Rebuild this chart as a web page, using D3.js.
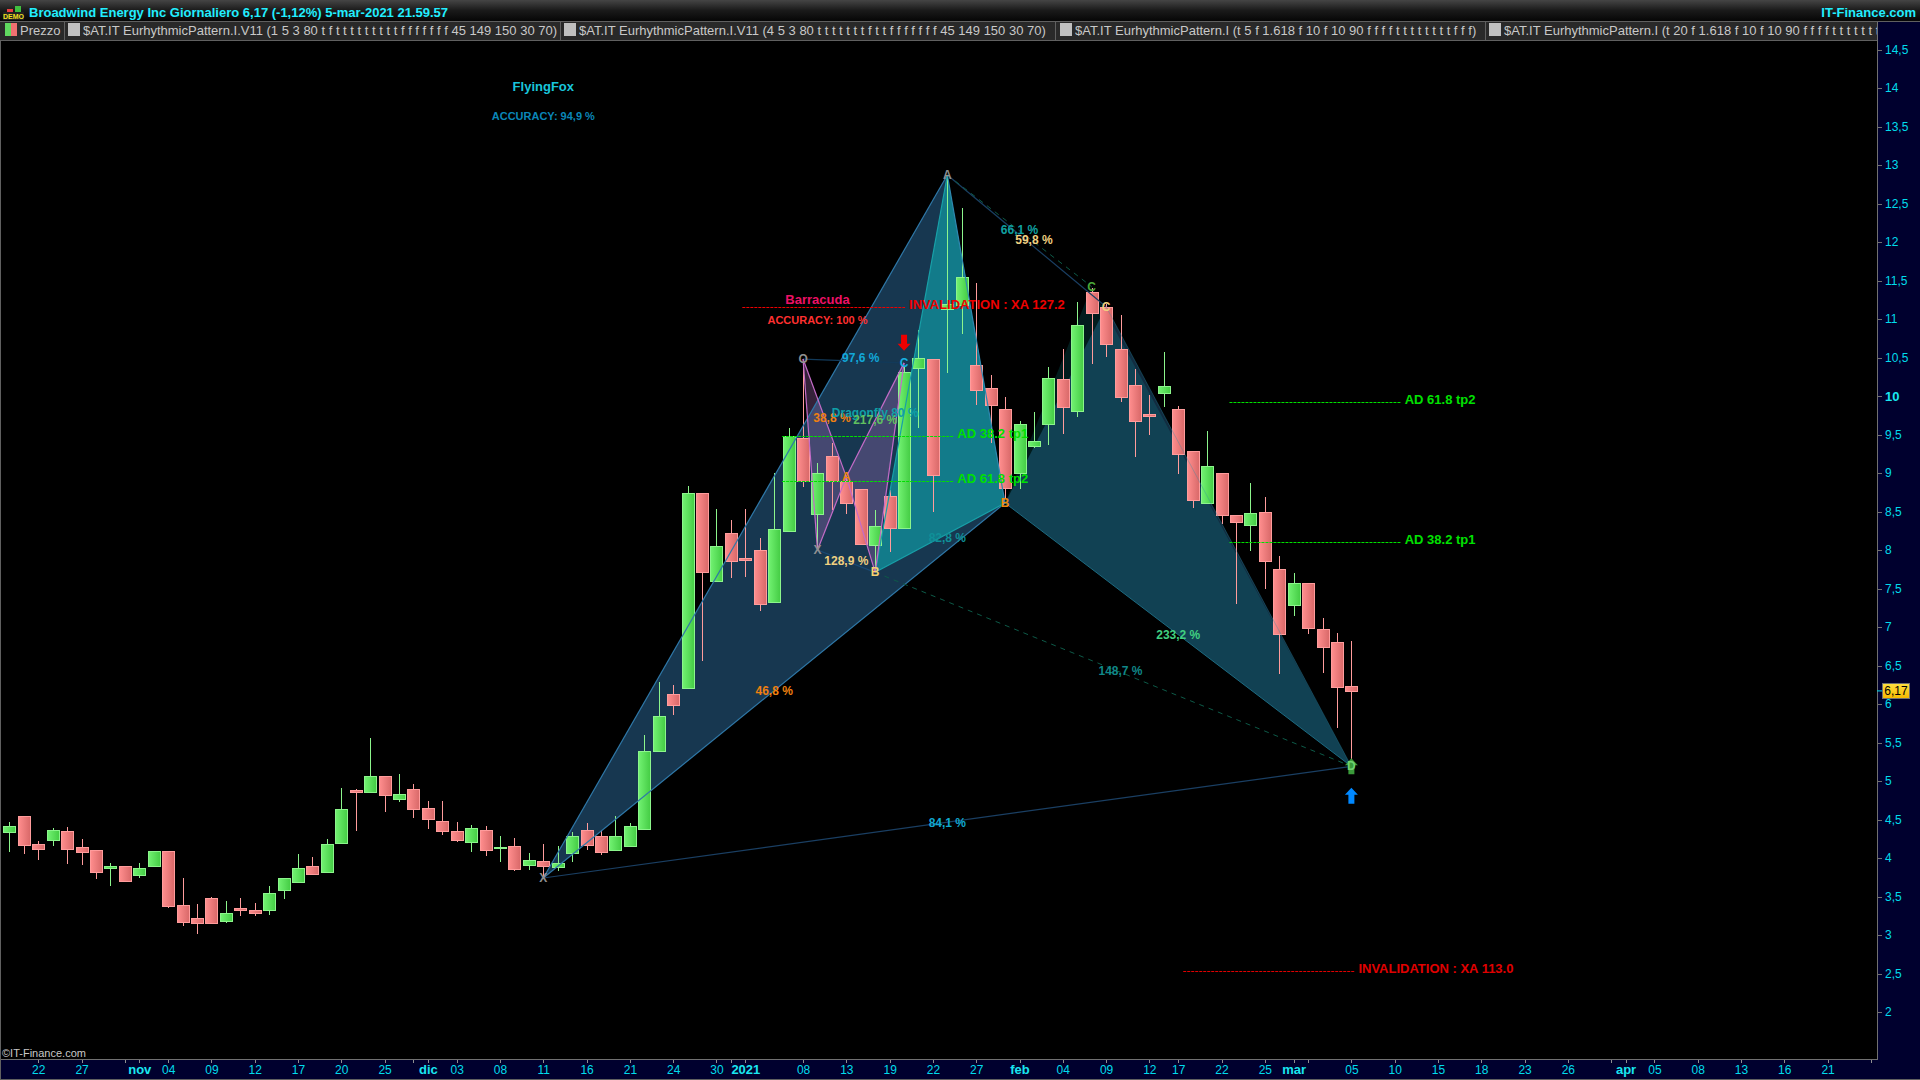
<!DOCTYPE html>
<html>
<head>
<meta charset="utf-8">
<script src="https://cdn.jsdelivr.net/npm/d3@7"></script>
<style>
  html, body { margin: 0; background: #000; overflow: hidden; }
  text { font-family: "Liberation Sans", Arial, sans-serif; }
</style>
</head>
<body>
<svg id="chart" width="1920" height="1080"></svg>
<script>
// trading sessions, the last ones are the empty future part of the axis
const sessions = [
  "2020-10-20","2020-10-21","2020-10-22","2020-10-23","2020-10-26","2020-10-27","2020-10-28","2020-10-29","2020-10-30",
  "2020-11-02","2020-11-03","2020-11-04","2020-11-05","2020-11-06","2020-11-09","2020-11-10","2020-11-11","2020-11-12","2020-11-13",
  "2020-11-16","2020-11-17","2020-11-18","2020-11-19","2020-11-20","2020-11-23","2020-11-24","2020-11-25","2020-11-27","2020-11-30",
  "2020-12-01","2020-12-02","2020-12-03","2020-12-04","2020-12-07","2020-12-08","2020-12-09","2020-12-10","2020-12-11",
  "2020-12-14","2020-12-15","2020-12-16","2020-12-17","2020-12-18","2020-12-21","2020-12-22","2020-12-23","2020-12-24",
  "2020-12-28","2020-12-29","2020-12-30","2020-12-31",
  "2021-01-04","2021-01-05","2021-01-06","2021-01-07","2021-01-08","2021-01-11","2021-01-12","2021-01-13","2021-01-14","2021-01-15",
  "2021-01-19","2021-01-20","2021-01-21","2021-01-22","2021-01-25","2021-01-26","2021-01-27","2021-01-28","2021-01-29",
  "2021-02-01","2021-02-02","2021-02-03","2021-02-04","2021-02-05","2021-02-08","2021-02-09","2021-02-10","2021-02-11","2021-02-12",
  "2021-02-16","2021-02-17","2021-02-18","2021-02-19","2021-02-22","2021-02-23","2021-02-24","2021-02-25","2021-02-26",
  "2021-03-01","2021-03-02","2021-03-03","2021-03-04","2021-03-05",
  "2021-03-08","2021-03-09","2021-03-10","2021-03-11","2021-03-12","2021-03-15","2021-03-16","2021-03-17","2021-03-18","2021-03-19",
  "2021-03-22","2021-03-23","2021-03-24","2021-03-25","2021-03-26","2021-03-29","2021-03-30","2021-03-31",
  "2021-04-01","2021-04-02","2021-04-05","2021-04-06","2021-04-07","2021-04-08","2021-04-09","2021-04-12","2021-04-13","2021-04-14",
  "2021-04-15","2021-04-16","2021-04-19","2021-04-20","2021-04-21","2021-04-22","2021-04-23","2021-04-26"
]

const opens = [4.34,4.55,4.18,4.23,4.35,4.14,4.11,3.86,3.90,3.78,3.90,4.09,3.39,3.22,3.48,3.19,3.35,3.33,3.33,3.59,3.69,3.90,3.81,4.19,4.88,4.86,5.06,4.76,4.90,4.65,4.48,4.35,4.21,4.37,4.13,4.16,3.91,3.96,3.89,4.07,4.36,4.29,4.11,4.16,4.38,5.38,6.13,6.21,8.74,7.60,8.22,7.90,8.00,7.32,8.25,9.45,8.47,9.22,8.89,8.79,8.06,8.70,8.28,10.36,10.48,11.13,11.17,10.40,10.11,9.83,8.99,9.34,9.64,10.22,9.80,11.35,11.16,10.61,10.14,9.76,10.04,9.83,9.28,8.61,9.00,8.45,8.33,8.49,7.75,7.29,7.57,6.97,6.81,6.24]
const highs = [4.47,4.55,4.22,4.39,4.40,4.25,4.11,3.94,3.90,3.93,4.09,4.09,3.74,3.40,3.49,3.44,3.48,3.42,3.64,3.74,4.05,4.01,4.25,4.91,4.90,5.56,5.06,5.09,4.96,4.74,4.74,4.47,4.43,4.42,4.29,4.26,4.06,4.18,4.16,4.34,4.45,4.36,4.55,4.45,5.60,6.28,6.25,8.83,8.74,8.53,8.39,8.53,8.16,9.00,9.58,10.45,9.13,9.39,8.95,8.79,8.52,8.78,10.38,10.86,10.48,12.87,12.44,11.47,10.27,9.99,9.68,9.79,10.38,10.61,11.22,11.40,11.20,11.05,10.35,10.01,10.57,9.87,9.28,9.55,9.00,8.45,8.87,8.69,7.92,7.70,7.57,7.12,6.92,6.82]
const lows = [4.08,4.05,3.98,4.16,3.92,3.91,3.73,3.64,3.69,3.74,3.90,3.35,3.12,3.01,3.16,3.16,3.25,3.25,3.26,3.47,3.69,3.80,3.81,4.19,4.35,4.86,4.60,4.73,4.52,4.38,4.30,4.21,4.08,4.03,3.95,3.83,3.84,3.76,3.83,3.95,4.10,4.04,4.11,4.16,4.38,5.38,5.86,6.21,6.56,7.59,7.64,7.65,7.21,7.32,8.25,8.82,8.00,8.52,8.47,8.06,7.74,7.97,8.28,9.58,8.49,10.30,10.81,9.88,9.39,8.67,8.79,9.32,9.36,9.51,9.73,10.42,10.51,9.92,9.21,9.49,9.86,8.99,8.54,8.61,8.34,7.30,7.99,7.50,6.39,7.14,6.91,6.40,5.69,5.27]
const closes = [4.42,4.17,4.11,4.36,4.12,4.08,3.82,3.89,3.71,3.87,4.09,3.38,3.17,3.16,3.16,3.29,3.33,3.29,3.55,3.74,3.87,3.80,4.18,4.63,4.86,5.07,4.81,4.83,4.64,4.51,4.35,4.23,4.39,4.11,4.14,3.86,3.98,3.90,3.94,4.29,4.17,4.08,4.29,4.42,5.39,5.84,5.99,8.74,7.71,8.05,7.86,7.87,7.30,8.27,9.48,8.89,9.00,8.90,8.60,8.08,8.31,8.28,10.31,10.49,8.97,11.19,11.54,10.08,9.89,8.80,9.63,9.41,10.24,9.86,10.92,11.08,10.68,9.99,9.67,9.74,10.13,9.25,8.64,9.09,8.45,8.36,8.48,7.85,6.91,7.57,6.99,6.74,6.23,6.17]

const priceTicks = d3.range(2, 14.51, 0.5)

const dateTicks = [
  ["2020-10-22","22"],["2020-10-27","27"],["2020-10-30",""],["2020-11-02","nov"],["2020-11-04","04"],["2020-11-09","09"],
  ["2020-11-12","12"],["2020-11-17","17"],["2020-11-20","20"],["2020-11-25","25"],["2020-11-30",""],["2020-12-01","dic"],
  ["2020-12-03","03"],["2020-12-08","08"],["2020-12-11","11"],["2020-12-16","16"],["2020-12-21","21"],["2020-12-24","24"],
  ["2020-12-30","30"],["2020-12-31",""],["2021-01-04","2021"],["2021-01-08","08"],["2021-01-13","13"],["2021-01-19","19"],
  ["2021-01-22","22"],["2021-01-27","27"],["2021-02-01","feb"],["2021-02-04","04"],["2021-02-09","09"],
  ["2021-02-12","12"],["2021-02-17","17"],["2021-02-22","22"],["2021-02-25","25"],["2021-03-01","mar"],["2021-03-02",""],
  ["2021-03-05","05"],["2021-03-10","10"],["2021-03-15","15"],["2021-03-18","18"],["2021-03-23","23"],["2021-03-26","26"],
  ["2021-03-31",""],["2021-04-01","apr"],["2021-04-05","05"],["2021-04-08","08"],["2021-04-13","13"],["2021-04-16","16"],
  ["2021-04-21","21"],["2021-04-26",""]
]
const monthLabels = ["nov","dic","2021","feb","mar","apr"]

// pattern pivots: [session, price]
const ffX = ["2020-12-11",3.74], ffA = ["2021-01-25",12.87], ffB = ["2021-01-29",8.61], ffC = ["2021-02-09",11.16], ffD = ["2021-03-05",5.19]
const dfX = ["2021-01-15",7.71], dfC = ["2021-02-08",11.42]
const baO = ["2021-01-08",10.48], baX = ["2021-01-11",8.00], baA = ["2021-01-13",8.95], baC = ["2021-01-20",10.43]

const fills = [
  {pts:[ffX,ffA,ffB], fill:"#2d6ea0", op:.5},
  {pts:[ffB,ffC,ffD], fill:"#2d6ea0", op:.4},
  {pts:[dfX,ffA,ffB], fill:"#0ebfc4", op:.5},
  {pts:[ffB,dfC,ffD], fill:"#0ebfc4", op:.15},
  {pts:[baO,baX,baA], fill:"#b070c0", op:.3},
  {pts:[baA,dfX,baC], fill:"#b070c0", op:.3}
]
const edges = [
  {a:ffX,b:ffA,c:"#2f78a8",w:1.2}, {a:ffX,b:ffB,c:"#2f78a8",w:1.2}, {a:ffA,b:ffB,c:"#2f88b0",w:1.2},
  {a:ffX,b:ffD,c:"#1a3f63",w:1.2}, {a:ffA,b:ffC,c:"#1a3f63",w:1.2},
  {a:ffB,b:ffD,c:"#1d6a80",w:1}, {a:ffC,b:ffD,c:"#2a8fa8",w:1,op:.35},
  {a:dfX,b:ffA,c:"#18a0a8",w:1.2}, {a:dfX,b:ffB,c:"#18a0a8",w:1.2},
  {a:ffA,b:dfC,c:"#0d5a48",w:1,dash:"5,5"}, {a:dfX,b:ffD,c:"#0d5a48",w:1,dash:"5,5"},
  {a:baO,b:baC,c:"#123a5a",w:1.2}, {a:baX,b:dfX,c:"#1a4a75",w:1.2},
  {a:baO,b:baX,c:"#c46cc8",w:1.2}, {a:baO,b:baA,c:"#c46cc8",w:1.2}, {a:baX,b:baA,c:"#c46cc8",w:1.2},
  {a:baA,b:dfX,c:"#c46cc8",w:1.2}, {a:baA,b:baC,c:"#c46cc8",w:1.2}, {a:dfX,b:baC,c:"#c46cc8",w:1.2}
]
const percentLabels = [
  {at:["2021-01-14",10.49],t:"97,6 %",c:"#12a8d8"},
  {at:["2021-01-12",9.71],t:"38,8 %",c:"#f08010"},
  {at:["2021-01-15",9.78],t:"Dragonfly 80 %",c:"#0fa0a8"},
  {at:["2021-01-15",9.69],t:"217,6 %",c:"#60c060"},
  {at:["2021-01-13",7.86],t:"128,9 %",c:"#f0d080"},
  {at:["2021-01-25",8.16],t:"82,8 %",c:"#0f9098"},
  {at:["2021-01-06",6.17],t:"46,8 %",c:"#f08010"},
  {at:["2021-01-25",4.46],t:"84,1 %",c:"#10a8d0"},
  {at:["2021-02-01",12.15],t:"66,1 %",c:"#10a0a0"},
  {at:["2021-02-02",12.02],t:"59,8 %",c:"#f0d080"},
  {at:["2021-02-17",6.89],t:"233,2 %",c:"#40d080"},
  {at:["2021-02-10",6.43],t:"148,7 %",c:"#108888"}
]
const pivotLabels = [
  {at:ffX,t:"X",c:"#909090"}, {at:ffA,t:"A",c:"#909090"}, {at:ffB,t:"B",c:"#f08a10"}, {at:ffC,t:"C",c:"#f0d080"},
  {at:dfX,t:"B",c:"#f5d070"}, {at:dfC,t:"C",c:"#4aa83a"}, {at:baO,t:"O",c:"#909090"}, {at:baX,t:"X",c:"#909090"},
  {at:baA,t:"A",c:"#f08a10"}, {at:baC,t:"C",c:"#18b0e0"}, {at:ffD,t:"D",c:"#70d070"}
]
const levelLines = [
  {from:"2021-01-07",to:"2021-01-25",p:9.48,t:"AD 38.2 tp1",c:"#00e000"},
  {from:"2021-01-07",to:"2021-01-25",p:8.90,t:"AD 61.8 tp2",c:"#00e000"},
  {from:"2021-02-23",to:"2021-03-10",p:9.92,t:"AD 61.8 tp2",c:"#00e000"},
  {from:"2021-02-23",to:"2021-03-10",p:8.10,t:"AD 38.2 tp1",c:"#00e000"},
  {from:"2021-01-04",to:"2021-01-20",p:11.16,t:"INVALIDATION : XA 127.2",c:"#ee0000",startPad:3,endPad:1},
  {from:"2021-02-17",to:"2021-03-05",p:2.53,t:"INVALIDATION :  XA 113.0",c:"#e00000",startPad:-5,endPad:3}
]
const titles = [
  {at:["2020-12-11",14.01],t:"FlyingFox",c:"#19c5dc",s:13},
  {at:["2020-12-11",13.63],t:"ACCURACY: 94,9 %",c:"#0a86b8",s:11},
  {at:["2021-01-11",11.25],t:"Barracuda",c:"#ee1166",s:13},
  {at:["2021-01-11",10.99],t:"ACCURACY: 100 %",c:"#ff3030",s:11}
]
const arrows = [
  {at:["2021-01-20",10.69],dir:1,c:"#ee0000"},
  {at:["2021-03-05",5.19],dir:-1,c:"#3a9a3a"},
  {at:["2021-03-05",4.81],dir:-1,c:"#0088ff"}
]
const legendItems = [
  {x:68,t:"$AT.IT EurhythmicPattern.I.V11 (1 5 3 80 t f t t t t t t t t t f f f f f f f 45 149 150 30 70)",sep:560},
  {x:564,t:"$AT.IT EurhythmicPattern.I.V11 (4 5 3 80 t t t t t t t f t t f f f f f f f 45 149 150 30 70)",sep:1055},
  {x:1060,t:"$AT.IT EurhythmicPattern.I (t 5 f 1.618 f 10 f 10 90 f f f f t t t t t t t t f f f)",sep:1485},
  {x:1489,t:"$AT.IT EurhythmicPattern.I (t 20 f 1.618 f 10 f 10 90 f f f f t t t t t t t t t t t f f f)",sep:null}
]

const W = 1920, H = 1080, axisX = 1877, axisY = 1059
const svg = d3.select("#chart")
const defs = svg.append("defs")

const x = d3.scalePoint().domain(sessions).range([9.4, 9.4 + 14.43 * (sessions.length - 1)])
const y = d3.scaleLinear().domain([2, 14.5]).range([1012, 49.5])
const px = p => x(p[0])
const py = p => y(p[1])

const grad = (id, stops, vertical) => {
  const g = defs.append("linearGradient").attr("id", id)
    .attr("x1", 0).attr("y1", 0).attr("x2", vertical ? 0 : 1).attr("y2", vertical ? 1 : 0)
  stops.forEach((c, i) => g.append("stop").attr("offset", i / (stops.length - 1)).attr("stop-color", c))
}
grad("upBody", ["#72f272", "#44cc44"])
grad("downBody", ["#ff8e8e", "#d86868"])
grad("titleBar", ["#454545", "#1a1a1a", "#060606"], true)
grad("priceTag", ["#ffe040", "#f5b800"], true)
defs.append("clipPath").attr("id", "legendClip").append("rect").attr("width", axisX).attr("height", H)

svg.append("rect").attr("width", W).attr("height", H).attr("fill", "#000")

// pattern fills go under the candles
const poly = pts => pts.map(p => px(p) + "," + py(p)).join(" ")
svg.append("g").selectAll("polygon").data(fills).join("polygon")
  .attr("points", d => poly(d.pts))
  .attr("fill", d => d.fill)
  .attr("fill-opacity", d => d.op)

// candles
const bars = sessions.slice(0, opens.length).map((d, i) => ({
  d, o: opens[i], h: highs[i], l: lows[i], c: closes[i], up: closes[i] >= opens[i]
}))
const candle = svg.append("g").attr("shape-rendering", "crispEdges")
  .selectAll("g").data(bars).join("g")
candle.append("line")
  .attr("x1", d => Math.round(x(d.d)) + .5).attr("x2", d => Math.round(x(d.d)) + .5)
  .attr("y1", d => y(d.h)).attr("y2", d => y(d.l))
  .attr("stroke", d => d.up ? "#8cf58c" : "#ff9c9c")
candle.append("rect")
  .attr("x", d => Math.round(x(d.d)) - 5.5)
  .attr("width", 12)
  .attr("y", d => Math.round(y(Math.max(d.o, d.c))) + .5)
  .attr("height", d => Math.max(1, Math.round(y(Math.min(d.o, d.c)) - y(Math.max(d.o, d.c)))))
  .attr("fill", d => d.up ? "url(#upBody)" : "url(#downBody)")
  .attr("stroke", d => d.up ? "#8cf58c" : "#ff9c9c")

// pattern edges stay above the candles
svg.append("g").selectAll("line").data(edges).join("line")
  .attr("x1", d => px(d.a)).attr("y1", d => py(d.a))
  .attr("x2", d => px(d.b)).attr("y2", d => py(d.b))
  .attr("stroke", d => d.c)
  .attr("stroke-width", d => d.w)
  .attr("stroke-opacity", d => d.op === undefined ? 1 : d.op)
  .attr("stroke-dasharray", d => d.dash || null)

// target and invalidation levels
const startPad = d => d.startPad === undefined ? 6.5 : d.startPad
const endPad = d => d.endPad === undefined ? 6 : d.endPad
const levels = svg.append("g").selectAll("g").data(levelLines).join("g")
levels.append("line")
  .attr("x1", d => x(d.from) - startPad(d)).attr("x2", d => x(d.to) + endPad(d))
  .attr("y1", d => Math.round(y(d.p)) + .5).attr("y2", d => Math.round(y(d.p)) + .5)
  .attr("stroke", d => d.c).attr("stroke-dasharray", "3,1")
levels.append("text")
  .attr("x", d => x(d.to) + endPad(d) + 4).attr("y", d => y(d.p) + 2)
  .attr("fill", d => d.c)
  .attr("font-size", 13).attr("font-weight", "bold")
  .text(d => d.t)

svg.append("g").selectAll("text").data(percentLabels).join("text")
  .attr("x", d => px(d.at)).attr("y", d => py(d.at) + 4)
  .attr("text-anchor", "middle").attr("fill", d => d.c)
  .attr("font-size", 12).attr("font-weight", "bold")
  .text(d => d.t)

svg.append("g").selectAll("text").data(titles).join("text")
  .attr("x", d => px(d.at)).attr("y", d => py(d.at) + 4)
  .attr("text-anchor", "middle").attr("fill", d => d.c)
  .attr("font-size", d => d.s).attr("font-weight", "bold")
  .text(d => d.t)

// arrows
svg.append("g").selectAll("path").data(arrows).join("path")
  .attr("transform", d => `translate(${px(d.at)},${py(d.at)}) scale(1,${d.dir})`)
  .attr("d", "M-3,-8H3V1H6.5L0,8L-6.5,1H-3Z")
  .attr("fill", d => d.c)

svg.append("g").selectAll("text").data(pivotLabels).join("text")
  .attr("x", d => px(d.at)).attr("y", d => py(d.at) + 4)
  .attr("text-anchor", "middle").attr("fill", d => d.c)
  .attr("font-size", 12).attr("font-weight", "bold")
  .text(d => d.t)

// price axis
svg.append("rect").attr("x", axisX).attr("y", 22).attr("width", W - axisX).attr("height", H - 22).attr("fill", "#00002e")
const yAxis = svg.append("g").attr("transform", `translate(${axisX},0)`)
  .call(d3.axisRight(y).tickValues(priceTicks).tickSize(5).tickPadding(3)
    .tickFormat(d => String(d).replace(".", ",")))
yAxis.select(".domain").remove()
yAxis.selectAll("line").attr("stroke", "#707070").attr("shape-rendering", "crispEdges")
yAxis.selectAll("text")
  .attr("fill", "#00dcec").attr("font-size", 12)
  .style("font-family", '"Liberation Sans"')
  .filter(d => d === 10).attr("font-weight", "bold").attr("font-size", 13).attr("fill", "#19e6f0")

// date axis
svg.append("rect").attr("y", axisY).attr("width", W).attr("height", H - axisY).attr("fill", "#00002e")
const tickText = new Map(dateTicks)
const xAxis = svg.append("g").attr("transform", `translate(0,${axisY})`)
  .call(d3.axisBottom(x).tickValues(dateTicks.map(d => d[0])).tickSize(4).tickPadding(2)
    .tickFormat(d => tickText.get(d)))
xAxis.select(".domain").remove()
xAxis.selectAll("line").attr("stroke", "#909090").attr("shape-rendering", "crispEdges")
xAxis.selectAll("text")
  .attr("fill", "#00dcec").attr("font-size", 12)
  .style("font-family", '"Liberation Sans"')
  .filter(function () { return monthLabels.includes(this.textContent) })
  .attr("font-weight", "bold").attr("font-size", 13).attr("fill", "#19e6f0")

// axis borders
svg.append("line").attr("x1", 0).attr("x2", axisX + 1).attr("y1", axisY + .5).attr("y2", axisY + .5).attr("stroke", "#707070")
svg.append("line").attr("x1", axisX + .5).attr("x2", axisX + .5).attr("y1", 22).attr("y2", axisY).attr("stroke", "#707070")
svg.append("line").attr("x1", .5).attr("x2", .5).attr("y1", 0).attr("y2", H).attr("stroke", "#606060")
svg.append("line").attr("x1", 0).attr("x2", W).attr("y1", H - .5).attr("y2", H - .5).attr("stroke", "#606060")

// current price tag
const last = closes[closes.length - 1]
svg.append("line").attr("x1", axisX).attr("x2", 1882).attr("y1", y(last)).attr("y2", y(last)).attr("stroke", "#00dcec")
svg.append("rect").attr("x", 1882.5).attr("y", Math.round(y(last)) - 7.5).attr("width", 27).attr("height", 15)
  .attr("fill", "url(#priceTag)").attr("stroke", "#707070")
svg.append("text").attr("x", 1896).attr("y", y(last) + 4).attr("text-anchor", "middle")
  .attr("fill", "#000").attr("font-size", 12).text(String(last).replace(".", ","))

// title bar
svg.append("rect").attr("width", W).attr("height", 21).attr("fill", "url(#titleBar)")
svg.append("rect").attr("y", 21).attr("width", axisX).attr("height", 20).attr("fill", "#292929")
svg.append("line").attr("x1", 0).attr("x2", W).attr("y1", 21.5).attr("y2", 21.5).attr("stroke", "#606060")
svg.append("line").attr("x1", 0).attr("x2", axisX).attr("y1", 40.5).attr("y2", 40.5).attr("stroke", "#606060")
svg.append("text").attr("x", 29).attr("y", 17).attr("fill", "#22eeff")
  .attr("font-size", 13).attr("font-weight", "bold")
  .text("Broadwind Energy Inc Giornaliero 6,17 (-1,12%) 5-mar-2021 21.59.57")
svg.append("text").attr("x", 1916).attr("y", 17).attr("text-anchor", "end").attr("fill", "#22eeff")
  .attr("font-size", 13).attr("font-weight", "bold").text("IT-Finance.com")

// small app icon
const icon = svg.append("g").attr("shape-rendering", "crispEdges")
icon.append("rect").attr("x", 3).attr("y", 12).attr("width", 21).attr("height", 8).attr("fill", "#222")
icon.append("rect").attr("x", 7).attr("y", 9).attr("width", 6).attr("height", 3).attr("fill", "#e84040")
icon.append("rect").attr("x", 15).attr("y", 6).attr("width", 6).attr("height", 6).attr("fill", "#40c040")
icon.append("text").attr("x", 13.5).attr("y", 19).attr("text-anchor", "middle").attr("fill", "#f0e020")
  .attr("font-size", 7).attr("font-weight", "bold").text("DEMO")

// indicator legend
svg.append("rect").attr("x", 5).attr("y", 23).attr("width", 6).attr("height", 13).attr("fill", "#5fd85f")
svg.append("rect").attr("x", 11).attr("y", 23).attr("width", 6).attr("height", 13).attr("fill", "#f07070")
svg.append("text").attr("x", 20).attr("y", 35).attr("fill", "#c8c8c8").attr("font-size", 13).text("Prezzo")
svg.append("line").attr("x1", 64.5).attr("x2", 64.5).attr("y1", 22).attr("y2", 40).attr("stroke", "#606060")
const legend = svg.append("g").attr("clip-path", "url(#legendClip)").selectAll("g").data(legendItems).join("g")
legend.append("rect").attr("x", d => d.x).attr("y", 23).attr("width", 12).attr("height", 13).attr("fill", "#c0c0c0")
legend.append("text").attr("x", d => d.x + 15).attr("y", 35).attr("fill", "#c8c8c8").attr("font-size", 13).text(d => d.t)
legend.filter(d => d.sep).append("line")
  .attr("x1", d => d.sep + .5).attr("x2", d => d.sep + .5).attr("y1", 22).attr("y2", 40).attr("stroke", "#606060")

svg.append("text").attr("x", 2).attr("y", 1057).attr("fill", "#c8c8c8").attr("font-size", 11).text("©IT-Finance.com")
</script>
</body>
</html>
